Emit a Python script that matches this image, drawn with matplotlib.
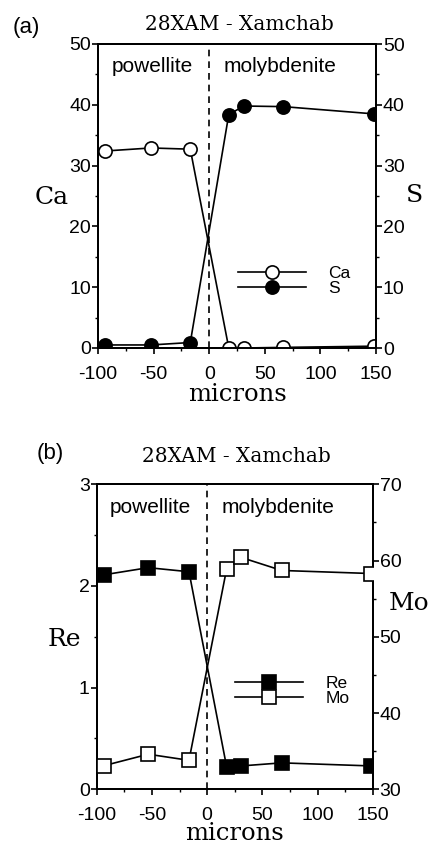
import matplotlib
matplotlib.use("Agg")
import matplotlib.pyplot as plt
from matplotlib.ticker import MultipleLocator

# ---- data ----
x_pos = [-93.7, -52.4, -17.0]
x_mol = [17.6, 31.2, 66.7, 148.5]
ca_pow = [32.4, 32.9, 32.7]
ca_mol = [0.0, 0.0, 0.1, 0.3]
s_pow = [0.5, 0.5, 0.9]
s_mol = [38.4, 39.8, 39.7, 38.5]

xb_pos = [-93.4, -53.3, -16.4]
xb_mol = [17.7, 31.0, 67.6, 148.2]
re_pow = [2.11, 2.18, 2.14]
re_mol = [0.22, 0.23, 0.26, 0.23]
mo_pow = [33.1, 34.6, 33.8]
mo_mol = [58.9, 60.4, 58.7, 58.3]

xticks = [-100, -50, 0, 50, 100, 150]
title = "28XAM - Xamchab"

SANS = "Liberation Sans"
SERIF = "DejaVu Serif"
TICK_FS = 14
plt.rcParams['font.family'] = SANS
plt.rcParams['axes.unicode_minus'] = False

W, H = 433, 846
fig = plt.figure(figsize=(W / 100, H / 100), dpi=100)


def style_axis(ax, ylim, major, minor):
    ax.set_xlim(-100, 150)
    ax.set_ylim(*ylim)
    ax.set_xticks(xticks)
    ax.xaxis.set_minor_locator(MultipleLocator(25))
    ax.yaxis.set_major_locator(MultipleLocator(major))
    ax.yaxis.set_minor_locator(MultipleLocator(minor))
    ax.tick_params(which='major', direction='out', length=4, width=1.2,
                   labelsize=TICK_FS, top=False)
    ax.tick_params(axis='y', which='major', pad=1)
    ax.tick_params(axis='x', which='major', pad=9)
    ax.tick_params(which='minor', direction='out', length=2, width=1.0, top=False)
    for s in ax.spines.values():
        s.set_linewidth(1.4)


def panel(rect, xp, xm, y1p, y1m, y2p, y2m, ylim1, ylim2, maj1, min1, maj2, min2,
          lab1, lab2, marker, tag, lab_pos1, lab_pos2, leg_anchor, title_y, tag_xy,
          xlab_pad):
    ax = fig.add_axes(rect)
    ax2 = ax.twinx()
    style_axis(ax, ylim1, maj1, min1)
    style_axis(ax2, ylim2, maj2, min2)
    ax2.tick_params(left=False, labelleft=False)
    ax.tick_params(right=False)
    xs = xp + xm
    ya = y1p + y1m
    yb = y2p + y2m
    if marker == 'o':
        f1, f2 = 'white', 'black'
    else:
        f1, f2 = 'black', 'white'
    l1, = ax.plot(xs, ya, '-', color='black', lw=1.2, marker=marker, ms=9.5,
                  mfc=f1, mec='black', mew=1.2, label=lab1, zorder=3)
    l2, = ax2.plot(xs, yb, '-', color='black', lw=1.2, marker=marker, ms=9.5,
                   mfc=f2, mec='black', mew=1.2, label=lab2, zorder=3)
    handles = [l1, l2]
    ax.axvline(0, color='black', lw=1.2, ls=(0, (4, 3)), zorder=1)
    ax.set_xlabel('microns', family=SERIF, fontsize=17.5, labelpad=xlab_pad)
    fig.text(lab_pos1[0] / W, 1 - lab_pos1[1] / H, lab1, family=SERIF, fontsize=18,
             ha='center', va='center')
    fig.text(lab_pos2[0] / W, 1 - lab_pos2[1] / H, lab2, family=SERIF, fontsize=18,
             ha='center', va='center')
    fig.text((rect[0] + rect[2] / 2) + 0.005, 1 - title_y / H, title,
             family=SERIF, fontsize=14.5, ha='center', va='center')
    fig.text(tag_xy[0] / W, 1 - tag_xy[1] / H, tag,
             fontsize=16, ha='center', va='center')
    yl = ylim1[0] + (ylim1[1] - ylim1[0]) * 0.925
    ax.text(-51, yl, 'powellite', fontsize=15, ha='center', va='center')
    ax.text(64, yl, 'molybdenite', fontsize=15, ha='center', va='center')
    ax2.legend(handles=handles, loc='center left', bbox_to_anchor=leg_anchor,
               frameon=False, fontsize=12.5, handlelength=3.9, handletextpad=1.3,
               labelspacing=0.0, borderpad=0, borderaxespad=0)
    return ax, ax2


# top panel
panel([98 / W, 1 - 348 / H, 278 / W, 304 / H], x_pos, x_mol, ca_pow, ca_mol, s_pow, s_mol,
      (0, 50), (0, 50), 10, 5, 10, 5, 'Ca', 'S', 'o', '(a)',
      (52, 197), (415, 196), ((238 - 98) / 278, 1 - (281 - 44) / 304), 25, (26, 27), 0)

# bottom panel
panel([96.7 / W, 1 - 789.3 / H, 276 / W, 305 / H], xb_pos, xb_mol, re_pow, re_mol, mo_pow, mo_mol,
      (0, 3), (30, 70), 1, 0.5, 10, 5, 'Re', 'Mo', 's', '(b)',
      (64, 640), (409, 603), ((235 - 96.7) / 276, 1 - (691 - 484.3) / 305), 457, (50, 453), -2)

fig.savefig('out.png', dpi=100)
